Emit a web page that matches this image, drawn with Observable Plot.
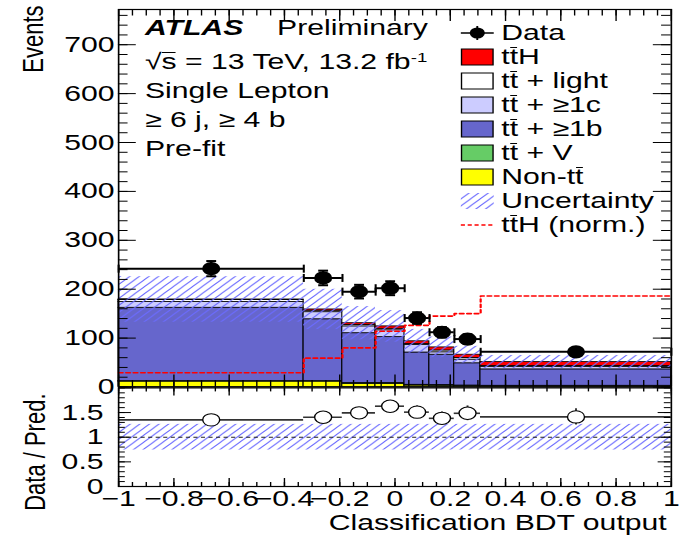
<!DOCTYPE html>
<html><head><meta charset="utf-8">
<script src="https://cdn.jsdelivr.net/npm/d3@7"></script>
<script src="https://cdn.jsdelivr.net/npm/@observablehq/plot@0.6"></script>
<style>
html,body{margin:0;padding:0;background:#fff;}
#stage{position:absolute;left:0;top:0;width:498px;height:535px;transform-origin:0 0;transform:scale(1.3715,1);font-family:"Liberation Sans",Arial,sans-serif;color:#000;}
#stage svg{position:absolute;left:0;overflow:visible;}
.lbl{position:absolute;font-size:22px;line-height:1;white-space:nowrap;}
.tb{position:relative;display:inline-block;line-height:1;}
.tb::after{content:"";position:absolute;left:0.03em;right:0.03em;top:0.04em;border-top:1.4px solid currentColor;}
.row{position:absolute;left:335.5px;height:24px;display:flex;align-items:center;font-size:22px;white-space:nowrap;}
.row svg{position:static !important;flex:none;margin-right:6px;}
sup{font-size:0.62em;vertical-align:0.55em;line-height:0;}
</style></head><body>
<div id="stage"></div>
<script>
// ---------------- data ----------------
const binEdges   = [-1, -0.33, -0.19, -0.07, 0.035, 0.125, 0.215, 0.31, 1];
const dataCounts = [242, 223, 195, 202, 141, 112, 98, 72];
const nonTT      = [11, 11, 6, 6, 3, 2.5, 2, 1.5];
const ttV        = [1, 1, 2, 2, 1.5, 1.5, 1, 1];
const tt1b       = [150, 126.5, 102, 94, 66, 62, 45.5, 33.5];
const tt1c       = [12, 14.5, 14, 14, 15.5, 5, 7.5, 5];
const ttLight    = [3.7, 3, 3, 3, 2, 3.7, 3.5, 2];
const ttH        = [1.3, 2.6, 3.5, 5, 5.5, 6.3, 6.5, 8];
const ttHnorm    = [29, 59, 80, 114, 126, 145, 150, 186];
const uncRel     = [0.26, 0.26, 0.26, 0.26, 0.26, 0.26, 0.26, 0.26];
const eventTickLabels = [0, 100, 200, 300, 400, 500, 600, 700];
const ratioTickLabels = [0, 0.5, 1, 1.5];
const xTickLabels = [-1, -0.8, -0.6, -0.4, -0.2, 0, 0.2, 0.4, 0.6, 0.8, 1];

// ---------------- layout ----------------
const FONT = "Liberation Sans, Arial, sans-serif";
const W = 498;
const ML = 86, MR = 9, PW = W - ML - MR;
const TOP_H = 388, TOP_MT = 9, TOP_MB = 1.5, TOP_PH = TOP_H - TOP_MT - TOP_MB;
const RAT_TOP = 386, RAT_H = 149, RAT_MT = 1.4, RAT_MB = 49, RAT_PH = RAT_H - RAT_MT - RAT_MB;

const comps = [
  {vals: nonTT, fill: "#ffff00"},
  {vals: ttV, fill: "#66cc66"},
  {vals: tt1b, fill: "#6666cc"},
  {vals: tt1c, fill: "#ccccff"},
  {vals: ttLight, fill: "#ffffff"},
  {vals: ttH, fill: "#ff0000"}
];
const bins = dataCounts.map((n, i) => ({
  lo: binEdges[i], hi: binEdges[i + 1], c: (binEdges[i] + binEdges[i + 1]) / 2,
  n, err: Math.sqrt(n), tot: 0, u: uncRel[i]
}));
const stackRows = [];
comps.forEach(cp => bins.forEach((b, i) => {
  stackRows.push({x1: b.lo, x2: b.hi, y1: b.tot, y2: b.tot + cp.vals[i], fill: cp.fill});
  b.tot += cp.vals[i];
}));
bins.forEach(b => { b.r = b.n / b.tot; b.rerr = b.err / b.tot; });
const normPts = bins.flatMap((b, i) => [{x: b.lo, y: ttHnorm[i]}, {x: b.hi, y: ttHnorm[i]}]);

const hCap = {draw(ctx) { ctx.moveTo(-3.6, 0); ctx.lineTo(3.6, 0); }};
const vCap = {draw(ctx) { ctx.moveTo(0, -4); ctx.lineTo(0, 4); }};
const capsV = bins.flatMap(b => [{x: b.c, y: b.n - b.err}, {x: b.c, y: b.n + b.err}]);
const capsH = bins.flatMap(b => [{x: b.lo, y: b.n}, {x: b.hi, y: b.n}]);

function fmtX(d) { return d < 0 ? "\u2212" + String(-d) : String(d); }

function ticks(yMaj, yMin, yMajL, yMinL, xMaj, xMin, xMajL, xMinL, PH) {
  const s = {stroke: "#000", strokeWidth: 1};
  return [
    Plot.tickY(yMin, {y: d => d, insetRight: PW - yMinL, ...s}),
    Plot.tickY(yMin, {y: d => d, insetLeft: PW - yMinL, ...s}),
    Plot.tickY(yMaj, {y: d => d, insetRight: PW - yMajL, ...s}),
    Plot.tickY(yMaj, {y: d => d, insetLeft: PW - yMajL, ...s}),
    Plot.tickX(xMin, {x: d => d, insetTop: PH - xMinL, ...s}),
    Plot.tickX(xMin, {x: d => d, insetBottom: PH - xMinL, ...s}),
    Plot.tickX(xMaj, {x: d => d, insetTop: PH - xMajL, ...s}),
    Plot.tickX(xMaj, {x: d => d, insetBottom: PH - xMajL, ...s})
  ];
}
function addHatch(svg, id) {
  const defs = document.createElementNS("http://www.w3.org/2000/svg", "defs");
  defs.innerHTML = `<pattern id="${id}" patternUnits="userSpaceOnUse" width="7" height="7"><path d="M-1,1 L1,-1 M0,7 L7,0 M6,8 L8,6" stroke="#6b6bff" stroke-width="0.9" fill="none"/></pattern>`;
  svg.insertBefore(defs, svg.firstChild);
}
const xMin = d3.range(-20, 21).map(k => k * 0.05);
const style = {fontFamily: FONT, fontSize: "22px", background: "transparent", overflow: "visible"};

// ---------------- top panel ----------------
const topPlot = Plot.plot({
  width: W, height: TOP_H,
  marginLeft: ML, marginRight: MR, marginTop: TOP_MT, marginBottom: TOP_MB,
  x: {domain: [-1, 1], axis: null},
  y: {domain: [0, 772], axis: null},
  color: {type: "identity"},
  style,
  marks: [
    Plot.rect(stackRows, {x1: "x1", x2: "x2", y1: "y1", y2: "y2", fill: "fill", stroke: "#000", strokeWidth: 0.8}),
    Plot.rect(bins, {x1: "lo", x2: "hi", y1: d => d.tot * (1 - d.u), y2: d => d.tot * (1 + d.u), fill: "url(#hatchTop)"}),
    Plot.line(normPts, {x: "x", y: "y", stroke: "#ff0000", strokeWidth: 1.6, strokeDasharray: "3,2.4"}),
    Plot.ruleY(bins, {y: "n", x1: "lo", x2: "hi", stroke: "#000", strokeWidth: 2}),
    Plot.ruleX(bins, {x: "c", y1: d => d.n - d.err, y2: d => d.n + d.err, stroke: "#000", strokeWidth: 1.6}),
    Plot.dot(capsV, {x: "x", y: "y", symbol: hCap, stroke: "#000", strokeWidth: 2, fill: "none"}),
    Plot.dot(capsH, {x: "x", y: "y", symbol: vCap, stroke: "#000", strokeWidth: 1.5, fill: "none"}),
    Plot.dot(bins, {x: "c", y: "n", r: 6.6, fill: "#000"}),
    ...ticks(eventTickLabels, d3.range(0, 772, 20), 13, 7, xTickLabels, xMin, 12, 6.5, TOP_PH),
    Plot.frame({stroke: "#000", strokeWidth: 1.2}),
    Plot.axisY(eventTickLabels, {anchor: "left", tickSize: 0, tickPadding: 3, fontSize: 22, label: null, tickFormat: d => String(d)}),
    Plot.text(["Events"], {frameAnchor: "top-left", rotate: -90, textAnchor: "end", dx: -70.7, dy: -4, fontSize: 22})
  ]
});
addHatch(topPlot, "hatchTop");
topPlot.style.top = "0px";

// ---------------- ratio panel ----------------
const ratPlot = Plot.plot({
  width: W, height: RAT_H,
  marginLeft: ML, marginRight: MR, marginTop: RAT_MT, marginBottom: RAT_MB,
  x: {domain: [-1, 1], axis: null},
  y: {domain: [0, 2], axis: null},
  style,
  marks: [
    Plot.rect(bins, {x1: "lo", x2: "hi", y1: d => 1 - d.u, y2: d => 1 + d.u, fill: "url(#hatchRat)"}),
    Plot.ruleY([1], {stroke: "#222", strokeWidth: 1, strokeDasharray: "3,2.5"}),
    Plot.ruleY(bins, {y: "r", x1: "lo", x2: "hi", stroke: "#333", strokeWidth: 1.6}),
    Plot.ruleX(bins, {x: "c", y1: d => d.r - d.rerr, y2: d => d.r + d.rerr, stroke: "#333", strokeWidth: 1.4}),
    Plot.dot(bins, {x: "c", y: "r", r: 6.2, fill: "#fff", stroke: "#000", strokeWidth: 1}),
    ...ticks([0, 0.5, 1, 1.5, 2], d3.range(0, 21).map(k => k * 0.1), 9.5, 5, xTickLabels, xMin, 8, 4, RAT_PH),
    Plot.frame({stroke: "#000", strokeWidth: 1.2}),
    Plot.axisY(ratioTickLabels, {anchor: "left", tickSize: 0, tickPadding: 11, fontSize: 22, label: null, tickFormat: d => String(d)}),
    Plot.axisX(xTickLabels, {anchor: "bottom", tickSize: 0, tickPadding: 4, fontSize: 22, label: null, tickFormat: fmtX}),
    Plot.text(["Data / Pred."], {frameAnchor: "top-left", rotate: -90, textAnchor: "end", dx: -69, dy: 5.6, fontSize: 22}),
    Plot.text(["Classification BDT output"], {frameAnchor: "bottom-right", textAnchor: "end", dx: -3.4, dy: 43, fontSize: 22})
  ]
});
addHatch(ratPlot, "hatchRat");
ratPlot.style.top = RAT_TOP + "px";

const stage = document.getElementById("stage");
stage.appendChild(topPlot);
stage.appendChild(ratPlot);

// ---------------- ATLAS label ----------------
const TB = '<span class="tb">t</span>';
const labels = [
  {x: 105.7, base: 36, html: '<b><i>ATLAS</i></b>'},
  {x: 202, base: 36, html: 'Preliminary'},
  {x: 105.7, base: 70, html: '\u221A<span class="tb">s</span> = 13 TeV, 13.2 fb<sup>-1</sup>'},
  {x: 105.7, base: 99, html: 'Single Lepton'},
  {x: 105.7, base: 128, html: '\u2265 6 j, \u2265 4 b'},
  {x: 105.7, base: 157, html: 'Pre-fit'}
];
labels.forEach(l => {
  const d = document.createElement("div");
  d.className = "lbl";
  d.style.left = l.x + "px";
  d.style.top = (l.base - 18.6) + "px";
  d.innerHTML = l.html;
  stage.appendChild(d);
});

// ---------------- legend ----------------
const legendEntries = [
  {kind: "data", text: "Data"},
  {kind: "box", fill: "#ff0000", text: "t" + TB + "H"},
  {kind: "box", fill: "#ffffff", text: "t" + TB + " + light"},
  {kind: "box", fill: "#ccccff", text: "t" + TB + " + \u22651c"},
  {kind: "box", fill: "#6666cc", text: "t" + TB + " + \u22651b"},
  {kind: "box", fill: "#66cc66", text: "t" + TB + " + V"},
  {kind: "box", fill: "#ffff00", text: "Non-t" + TB},
  {kind: "hatch", text: "Uncertainty"},
  {kind: "dash", text: "t" + TB + "H (norm.)"}
];
legendEntries.forEach((e, i) => {
  const cy = 33 + 24 * i;
  const row = document.createElement("div");
  row.className = "row";
  row.style.top = (cy - 12) + "px";
  let sw = "";
  if (e.kind === "data") {
    sw = '<line x1="0" y1="9" x2="24" y2="9" stroke="#000" stroke-width="1.6"/><line x1="12" y1="2" x2="12" y2="16" stroke="#000" stroke-width="1.4"/><circle cx="12" cy="9" r="5.5" fill="#000"/>';
  } else if (e.kind === "box") {
    sw = `<rect x="0.5" y="1" width="23" height="16" fill="${e.fill}" stroke="#000" stroke-width="1"/>`;
  } else if (e.kind === "hatch") {
    sw = '<defs><pattern id="hatchLeg" patternUnits="userSpaceOnUse" width="7" height="7"><path d="M-1,1 L1,-1 M0,7 L7,0 M6,8 L8,6" stroke="#6b6bff" stroke-width="0.9" fill="none"/></pattern></defs><rect x="0" y="1" width="24" height="16" fill="url(#hatchLeg)"/>';
  } else {
    sw = '<line x1="0" y1="9" x2="24" y2="9" stroke="#ff0000" stroke-width="1.5" stroke-dasharray="3,2"/>';
  }
  row.innerHTML = `<svg width="24" height="18" viewBox="0 0 24 18">${sw}</svg><span>${e.text}</span>`;
  stage.appendChild(row);
});
</script>
</body></html>
